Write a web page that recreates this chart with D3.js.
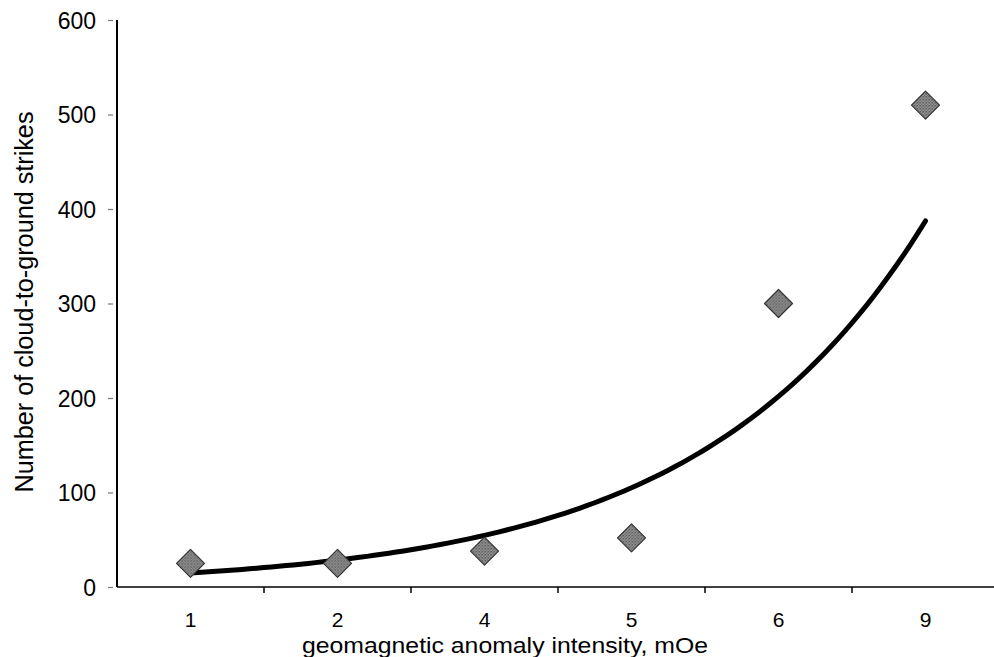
<!DOCTYPE html>
<html>
<head>
<meta charset="utf-8">
<script src="https://cdn.jsdelivr.net/npm/d3@7"></script>
<style>
  html, body { margin: 0; padding: 0; background: #fff; }
  svg { display: block; }
  text { font-family: "Liberation Sans", Arial, sans-serif; fill: #000; }
  .xlab { font-size: 21px; }
  .ylab { font-size: 23px; }
</style>
</head>
<body>
<svg id="chart" width="994" height="657"></svg>
<script>
// ---- data ----
const categories = ["1", "2", "4", "5", "6", "9"];
const strikes = [25, 25, 38, 52, 300, 510];
const yTicks = [0, 100, 200, 300, 400, 500, 600];
const xTitle = "geomagnetic anomaly intensity, mOe";
const yTitle = "Number of cloud-to-ground strikes";

// ---- layout ----
const svg = d3.select("#chart");
const plotLeft = 117, plotRight = 999, plotTop = 20, plotBottom = 587;

const x = d3.scaleBand().domain(categories).range([plotLeft, plotRight]).paddingInner(0).paddingOuter(0);
const y = d3.scaleLinear().domain([0, 600]).range([plotBottom, plotTop]);

// pattern for the hatched diamond markers
const defs = svg.append("defs");
const pat = defs.append("pattern")
  .attr("id", "hatch").attr("patternUnits", "userSpaceOnUse")
  .attr("width", 3).attr("height", 3);
pat.append("rect").attr("width", 3).attr("height", 3).attr("fill", "#aaaaaa");
pat.append("rect").attr("x", 0).attr("y", 0).attr("width", 1.5).attr("height", 1.5).attr("fill", "#404040");
pat.append("rect").attr("x", 1.5).attr("y", 1.5).attr("width", 1.5).attr("height", 1.5).attr("fill", "#606060");

// ---- y axis ----
const yAxis = d3.axisLeft(y).tickValues(yTicks).tickSizeOuter(0).tickSizeInner(0).tickPadding(0);
const gy = svg.append("g").attr("transform", `translate(${plotLeft},0)`).call(yAxis)
  .attr("font-size", null).attr("font-family", null);
gy.select(".domain").remove();
gy.selectAll(".tick line").attr("x1", -4).attr("x2", -9).attr("stroke", "#777").attr("stroke-width", 1.2);
gy.selectAll(".tick text")
  .attr("class", "ylab")
  .attr("x", -21).attr("dy", "0.35em")
  .attr("fill", "#000");
svg.append("line").attr("x1", plotLeft).attr("x2", plotLeft).attr("y1", plotTop).attr("y2", plotBottom)
  .attr("stroke", "#000").attr("stroke-width", 2);

// ---- x axis ----
const xAxis = d3.axisBottom(x).tickSize(0).tickPadding(0);
const gx = svg.append("g").attr("transform", `translate(0,${plotBottom})`).call(xAxis)
  .attr("font-size", null).attr("font-family", null);
gx.select(".domain").remove();
gx.selectAll(".tick text")
  .attr("class", "xlab")
  .attr("y", 40).attr("dy", 0)
  .attr("fill", "#000");
svg.append("line").attr("x1", plotLeft).attr("x2", 994).attr("y1", plotBottom).attr("y2", plotBottom)
  .attr("stroke", "#000").attr("stroke-width", 1.6);
// category boundary ticks
const boundaries = categories.slice(1);
svg.append("g").selectAll("line").data(boundaries).join("line")
  .attr("x1", d => x(d)).attr("x2", d => x(d))
  .attr("y1", plotBottom).attr("y2", plotBottom + 6)
  .attr("stroke", "#000").attr("stroke-width", 1.5);

// ---- exponential trendline (least squares on ln y vs category index) ----
const idx = categories.map((c, i) => i + 1);
const lny = strikes.map(v => Math.log(v));
const mx = d3.mean(idx), my = d3.mean(lny);
const slope = d3.sum(idx, (v, i) => (v - mx) * (lny[i] - my)) / d3.sum(idx, v => (v - mx) ** 2);
const intercept = my - slope * mx;
const xIdx = d3.scaleLinear().domain([1, categories.length])
  .range([x(categories[0]) + x.bandwidth() / 2, x(categories[categories.length - 1]) + x.bandwidth() / 2]);
const trend = d3.range(0, 101).map(k => {
  const t = 1 + (categories.length - 1) * k / 100;
  return [t, Math.exp(intercept + slope * t)];
});
svg.append("path").datum(trend)
  .attr("d", d3.line().x(d => xIdx(d[0])).y(d => y(d[1])).curve(d3.curveLinear))
  .attr("fill", "none").attr("stroke", "#000").attr("stroke-width", 5)
  .attr("stroke-linecap", "round").attr("stroke-linejoin", "round");

// ---- diamond markers ----
const rr = 14;
const diamond = `M0,${-rr}L${rr},0L0,${rr}L${-rr},0Z`;
svg.append("g").selectAll("path").data(categories).join("path")
  .attr("transform", (d, i) => `translate(${x(d) + x.bandwidth() / 2},${y(strikes[i])})`)
  .attr("d", diamond)
  .attr("fill", "url(#hatch)").attr("stroke", "#333").attr("stroke-width", 1.2)
  .attr("stroke-linejoin", "round");

// ---- titles ----
svg.append("text")
  .attr("x", 505).attr("y", 653)
  .attr("text-anchor", "middle")
  .attr("textLength", 406).attr("lengthAdjust", "spacingAndGlyphs")
  .style("font-size", "22px")
  .text(xTitle);

svg.append("text")
  .attr("transform", "translate(33,302) rotate(-90)")
  .attr("text-anchor", "middle")
  .attr("textLength", 381).attr("lengthAdjust", "spacingAndGlyphs")
  .style("font-size", "25px")
  .text(yTitle);
</script>
</body>
</html>
